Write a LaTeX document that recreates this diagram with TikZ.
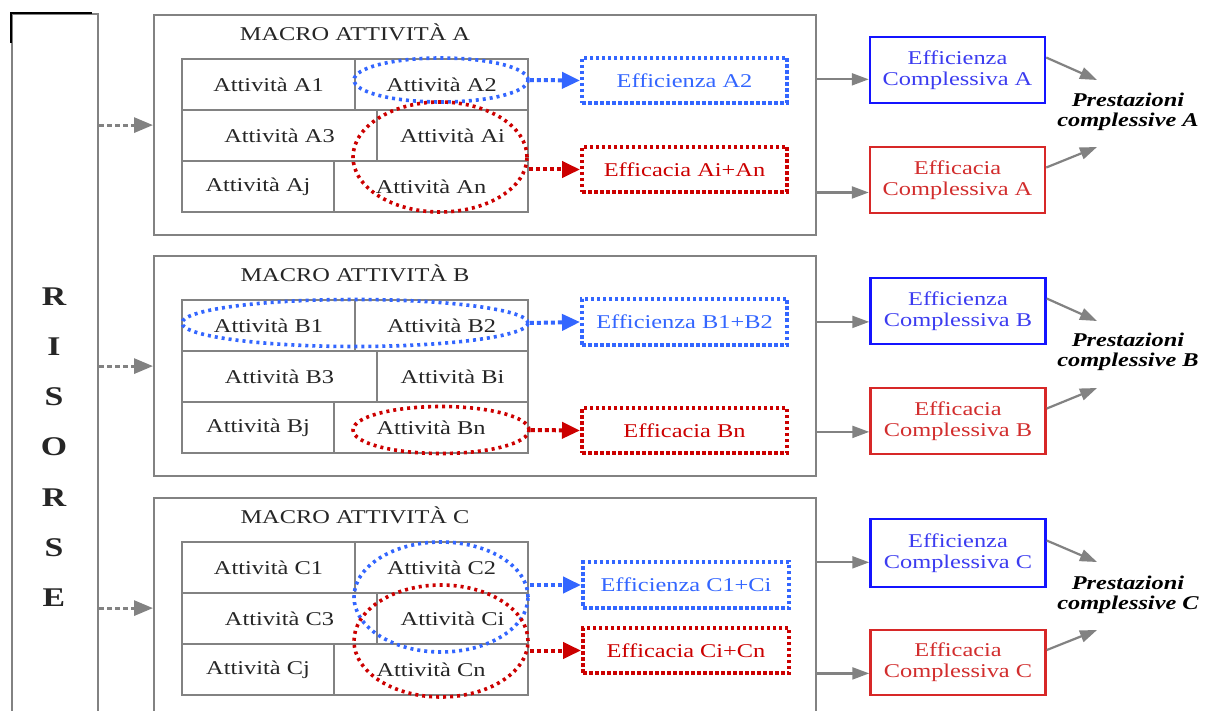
\documentclass[tikz,border=0pt]{standalone}
\usepackage{fontspec}
\setmainfont[FakeStretch=1.25]{Liberation Serif}
\usetikzlibrary{arrows.meta,shapes.geometric}
\definecolor{lg}{RGB}{130,130,130}
\definecolor{dblue}{RGB}{51,102,255}
\definecolor{dred}{RGB}{204,0,0}
\definecolor{sblue}{RGB}{20,20,255}
\definecolor{sred}{RGB}{215,40,40}
\definecolor{tblue}{RGB}{60,60,240}
\definecolor{tred}{RGB}{210,45,45}
\newcommand\txt{\fontsize{19.5}{21}\selectfont}
\tikzset{
  cell/.style={draw=lg, line width=2pt, minimum height=51pt, inner sep=0pt, font=\txt, text=black!85},
  macro/.style={draw=lg, line width=2.2pt, anchor=north west, minimum width=662pt, minimum height=220pt, inner sep=0pt},
  title/.style={font=\txt, text=black!85},
  ell/.style={ellipse, line width=3.6pt, dash pattern=on 3pt off 4pt, inner sep=0pt},
  dbox/.style={line width=4pt, dash pattern=on 3.5pt off 2.5pt, minimum width=205pt, minimum height=45pt, inner sep=0pt, font=\txt},
  cbox/.style={line width=2.5pt, minimum width=175pt, minimum height=66pt, align=center, font=\txt, inner sep=0pt},
  pres/.style={align=center, font=\fontsize{19.5}{20}\selectfont\bfseries\itshape},
  garrow/.style={draw=lg, line width=2.2pt, -{Triangle[length=17pt,width=12pt]}},
  darrow/.style={line width=4pt, dash pattern=on 4pt off 3pt, -{Triangle[length=18pt,width=16pt]}},
  rarrow/.style={draw=lg, line width=3pt, dash pattern=on 5pt off 3pt, -{Triangle[length=19pt,width=15pt]}}
}
\newcommand\mytable[1]{%
  \node[macro] (m#1) at (153,14) {};
  \node[title] (t#1) at (355,32) {MACRO ATTIVITÀ #1};
  \node[cell, minimum width=173pt] (#1c1) at (268.5,84.5) {Attività #11};
  \node[cell, minimum width=173pt] (#1c2) at (441.5,84.5) {Attività #12};
  \node[cell, minimum width=195pt] (#1c3) at (279.5,135.5) {Attività #13};
  \node[cell, minimum width=151pt] (#1ci) at (452.5,135.5) {Attività #1i};
  \node[cell, minimum width=152pt] (#1cj) at (258,186.5) {Attività #1j};
  \node[cell, minimum width=194pt] (#1cn) at (431,186.5) {Attività #1n};
}
\begin{document}
\begin{tikzpicture}[x=1pt, y=-1pt]
\useasboundingbox (0,0) rectangle (1210,711);
\clip (0,0) rectangle (1210,711);
\fill[white] (0,0) rectangle (1210,711);

% RISORSE
\node[draw=lg, line width=2.2pt, minimum width=86pt, minimum height=707pt, anchor=north west, inner sep=0pt] (ris) at (11,13) {};
\node[align=center, font=\fontsize{27}{50.17}\selectfont\bfseries, text=black!85] (rist) at (54,447) {R\\I\\S\\O\\R\\S\\E};
\draw[black, line width=2.2pt] ([yshift=-30pt]ris.north west) -- (ris.north west) -- ([xshift=-7pt]ris.north east);

% tables
\mytable{A}
\begin{scope}[shift={(0,241)}]\mytable{B}\end{scope}
\begin{scope}[shift={(0,483)}]\mytable{C}\end{scope}

\draw[rarrow] (ris.east |- mA.west) -- (mA.west);
\draw[rarrow] (ris.east |- mB.west) -- (mB.west);
\draw[rarrow] (ris.east |- mC.west) -- (mC.west);

% ===== Section A =====
\node[ell, draw=dblue, minimum width=174pt, minimum height=44pt] (eAb) at (441,80) {};
\node[ell, draw=dred, minimum width=174pt, minimum height=110pt] (eAr) at (440,157) {};
\node[dbox, draw=dblue, text=dblue] (fAb) at (684.5,80.5) {Efficienza A2};
\node[dbox, draw=dred, text=dred] (fAr) at (684.5,169.5) {Efficacia Ai+An};
\draw[darrow, dblue] (eAb.east) -- (fAb.west);
\draw[darrow, dred] (eAr.east |- fAr.west) -- (fAr.west);
\node[cbox, draw=sblue, text=tblue] (cAb) at (957.5,70) {Efficienza\\Complessiva A};
\node[cbox, draw=sred, text=tred] (cAr) at (957.5,180) {Efficacia\\Complessiva A};
\draw[garrow] (mA.east |- cAb.186) -- (cAb.186);
\draw[garrow] (mA.east |- cAr.188) -- (cAr.188);
\node[pres] (pA) at (1128,112) {Prestazioni\\complessive A};
\coordinate (pA1) at (1097,80);
\coordinate (pA2) at (1097,147);
\draw[garrow] (cAb.8) -- (pA1);
\draw[garrow] (cAr.8) -- (pA2);

% ===== Section B =====
\node[ell, draw=dblue, minimum width=346pt, minimum height=47pt] (eBb) at (355,323) {};
\node[ell, draw=dred, minimum width=176pt, minimum height=47pt] (eBr) at (441,430) {};
\node[dbox, draw=dblue, text=dblue, minimum height=46pt] (fBb) at (684.5,322) {Efficienza B1+B2};
\node[dbox, draw=dred, text=dred] (fBr) at (684.5,430.5) {Efficacia Bn};
\draw[darrow, dblue] (eBb.east) -- (fBb.west);
\draw[darrow, dred] (eBr.east) -- (fBr.west);
\node[cbox, draw=sblue, text=tblue] (cBb) at (958,311) {Efficienza\\Complessiva B};
\node[cbox, draw=sred, text=tred] (cBr) at (958,421) {Efficacia\\Complessiva B};
\draw[garrow] (mB.east |- cBb.187) -- (cBb.187);
\draw[garrow] (mB.east |- cBr.187) -- (cBr.187);
\node[pres] (pB) at (1128,352) {Prestazioni\\complessive B};
\coordinate (pB1) at (1097,321);
\coordinate (pB2) at (1097,388);
\draw[garrow] (cBb.8) -- (pB1);
\draw[garrow] (cBr.8) -- (pB2);

% ===== Section C =====
\node[ell, draw=dblue, minimum width=174pt, minimum height=110pt] (eCb) at (441,597) {};
\node[ell, draw=dred, minimum width=174pt, minimum height=112pt] (eCr) at (441,641) {};
\node[dbox, draw=dblue, text=dblue, minimum width=206pt, minimum height=46pt] (fCb) at (686,585) {Efficienza C1+Ci};
\node[dbox, draw=dred, text=dred, minimum width=206pt] (fCr) at (686,650.5) {Efficacia Ci+Cn};
\draw[darrow, dblue] (eCb.east |- fCb.west) -- (fCb.west);
\draw[darrow, dred] (eCr.east |- fCr.west) -- (fCr.west);
\node[cbox, draw=sblue, text=tblue, minimum height=68pt] (cCb) at (958,553) {Efficienza\\Complessiva C};
\node[cbox, draw=sred, text=tred, minimum height=65pt] (cCr) at (958,662.5) {Efficacia\\Complessiva C};
\draw[garrow] (mC.east |- cCb.186) -- (cCb.186);
\draw[garrow] (mC.east |- cCr.187) -- (cCr.187);
\node[pres] (pC) at (1128,595) {Prestazioni\\complessive C};
\coordinate (pC1) at (1097,562);
\coordinate (pC2) at (1097,630);
\draw[garrow] (cCb.8) -- (pC1);
\draw[garrow] (cCr.8) -- (pC2);
\end{tikzpicture}
\end{document}
